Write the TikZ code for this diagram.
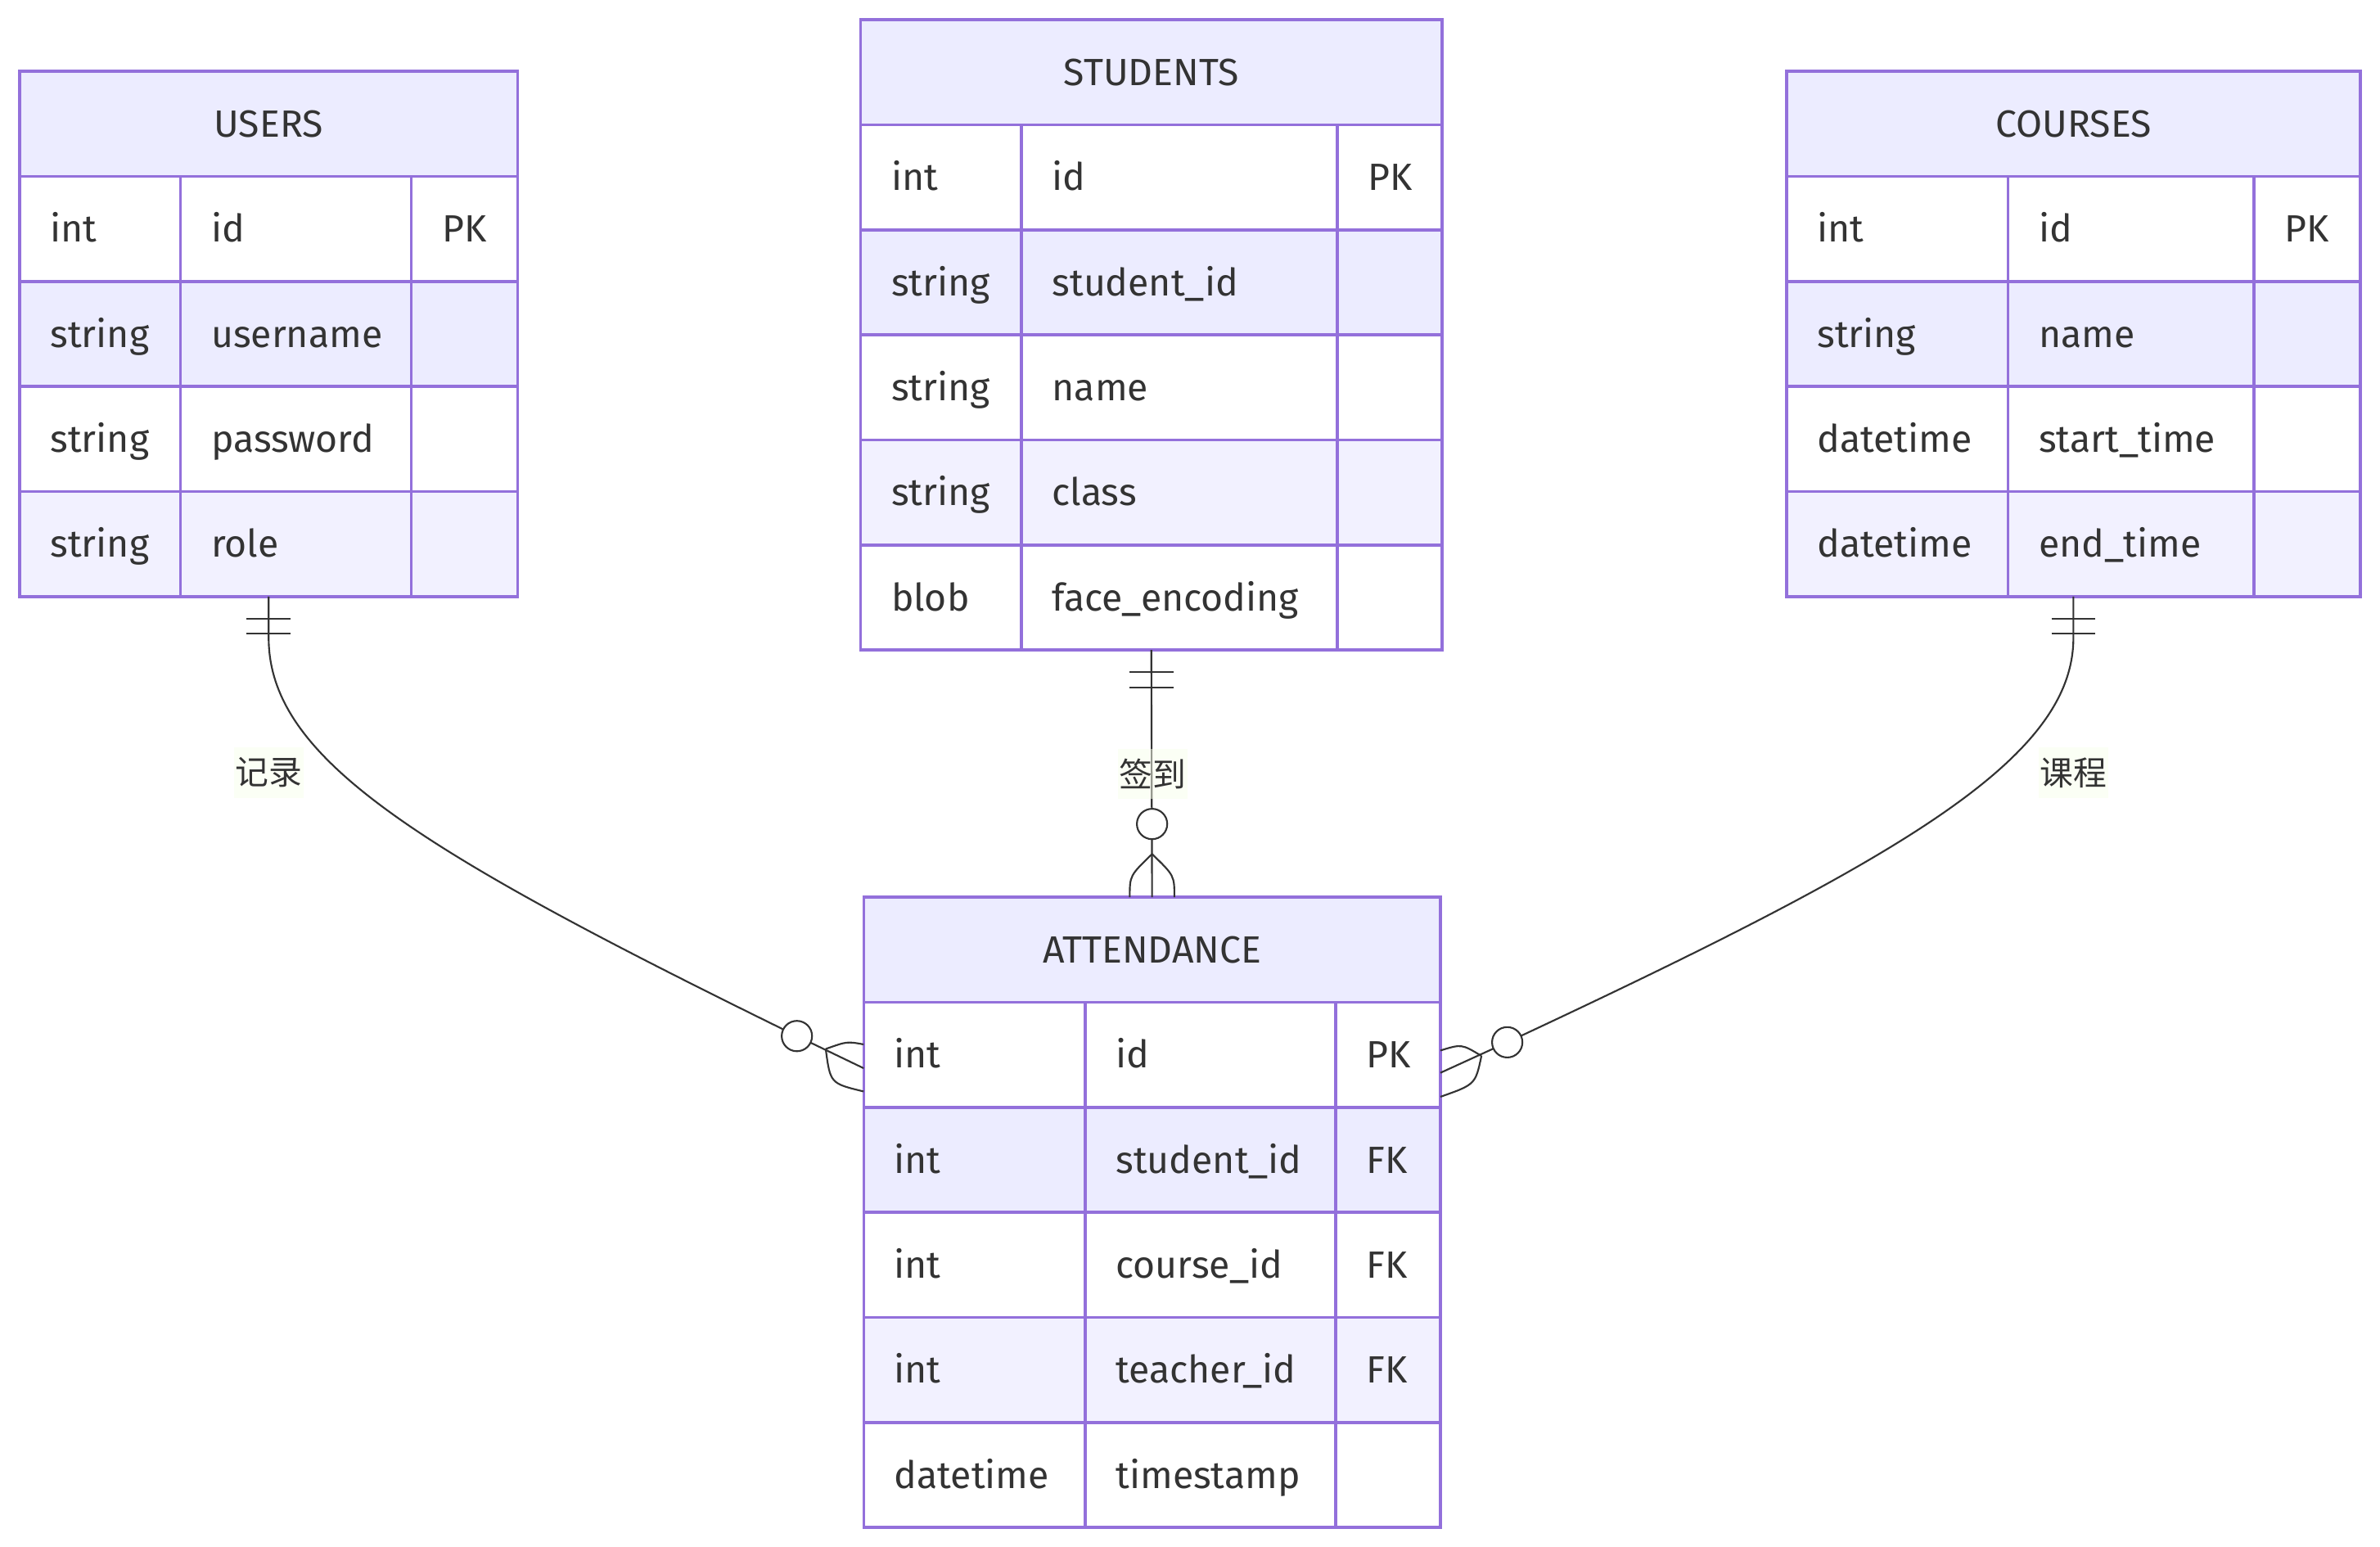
\documentclass[tikz,border=0pt]{standalone}
\usepackage{fontspec}
\setmainfont{Fira Sans}
\newfontfamily\cjkfont{Noto Sans CJK SC}
\usetikzlibrary{calc}
\definecolor{erborder}{HTML}{9370DB}
\definecolor{erhead}{HTML}{ECECFF}
\definecolor{erow1}{HTML}{FFFFFF}
\definecolor{erow2}{HTML}{ECECFF}
\definecolor{erow3}{HTML}{FFFFFF}
\definecolor{erow4}{HTML}{F2F1FF}
\definecolor{erow5}{HTML}{FFFFFF}
\definecolor{ertext}{HTML}{333333}
\definecolor{erline}{HTML}{333333}
\definecolor{lblbg}{RGB}{249,255,236}
\tikzset{
  cellbox/.style={draw=erborder, line width=1.9pt, inner sep=0pt, outer sep=0pt, anchor=north west},
  celltxt/.style={anchor=base west, inner sep=0pt, text=ertext, font=\fontsize{25}{30}\selectfont},
  headtxt/.style={anchor=base, inner sep=0pt, text=ertext, font=\fontsize{25}{30}\selectfont},
  rel/.style={draw=erline, line width=1.15pt},
  relcircle/.style={draw=erline, line width=1.15pt, fill=white},
  lbl/.style={fill=lblbg, fill opacity=0.5, text opacity=1, text=ertext, font=\cjkfont\fontsize{22}{25}\selectfont, inner sep=0pt, minimum width=46pt, minimum height=33pt}
}
% #1 id, #2 x0, #3 x1, #4 x2, #5 x3, #6 ytop, #7 title, #8 rows, #9 list
\newcommand{\ertab}[9]{%
  \node[cellbox, fill=erhead, minimum width={(#5-#2)*1pt}, minimum height=69.2pt] (#1-h) at (#2,#6) {};
  \node[headtxt] (#1-title) at ({(#2+#5)/2},{#6+43.3}) {#7};
  \foreach \tp/\nm/\ky [count=\i] in {#9}{%
    \pgfmathsetmacro\yy{#6+69.2*\i}
    \node[cellbox, fill=erow\i, minimum width={(#3-#2)*1pt}, minimum height=69.2pt] (#1-ct\i) at (#2,\yy) {};
    \node[cellbox, fill=erow\i, minimum width={(#4-#3)*1pt}, minimum height=69.2pt] (#1-cn\i) at (#3,\yy) {};
    \node[cellbox, fill=erow\i, minimum width={(#5-#4)*1pt}, minimum height=69.2pt] (#1-ck\i) at (#4,\yy) {};
    \node[celltxt] (#1-t\i) at ({#2+20},{\yy+43.3}) {\tp};
    \node[celltxt] (#1-n\i) at ({#3+20},{\yy+43.3}) {\nm};
    \node[celltxt] (#1-k\i) at ({#4+20},{\yy+43.3}) {\ky};
  }
  \node[cellbox, minimum width={(#5-#2)*1pt}, minimum height={69.2*(#8+1)*1pt}] (#1) at (#2,#6) {};
}
\newcommand{\onebars}[1]{%
  \draw[rel] ($(#1)+(-14.5,14.5)$) -- ++(29,0);
  \draw[rel] ($(#1)+(-14.5,24.5)$) -- ++(29,0);
}
\begin{document}
\begin{tikzpicture}[x=1pt, y=-1pt]
\useasboundingbox (0,0) rectangle (1568,1019);
\fill[white] (0,0) rectangle (1568,1019);

\ertab{users}{13}{119}{271}{341}{47}{USERS}{4}{int/id/PK, string/username/, string/password/, string/role/}
\ertab{students}{567}{673}{881}{950}{13}{STUDENTS}{5}{int/id/PK, string/student\_id/, string/name/, string/class/, blob/face\_encoding/}
\ertab{courses}{1177}{1323}{1485}{1555}{47}{COURSES}{4}{int/id/PK, string/name/, datetime/start\_time/, datetime/end\_time/}
\ertab{att}{569}{715}{880}{949}{591}{ATTENDANCE}{5}{int/id/PK, int/student\_id/FK, int/course\_id/FK, int/teacher\_id/FK, datetime/timestamp/}

% USERS -> ATTENDANCE
\coordinate (u1) at ($(users.south)+(0,27)$);
\coordinate (e1) at ($(att.north west)+(0,112.7)$);
\coordinate (c1) at ($(e1)+(-44,-21.2)$);
\coordinate (k1) at ($(e1)+(-25,-12.7)$);
\draw[rel] (users.south) -- (u1) .. controls +(0,80) and +(-250,-122.5) .. (c1) -- (e1);
\draw[rel] (k1) .. controls ($(e1)+(-11,-17.7)$) .. ($(e1)+(0,-15.7)$);
\draw[rel] (k1) .. controls ($(e1)+(-22,10)$) .. ($(e1)+(0,15.3)$);
\draw[relcircle] (c1) circle[radius=10pt];
\onebars{users.south}
\node[lbl] (l1) at (177,509) {记录};

% STUDENTS -> ATTENDANCE
\coordinate (k2) at ($(att.north)+(0,-28.4)$);
\coordinate (c2) at ($(att.north)+(0,-48.2)$);
\draw[rel] (students.south) -- (att.north);
\draw[rel] (k2) .. controls ($(att.north)+(-14.7,-14.2)$) .. ($(att.north)+(-14.7,0)$);
\draw[rel] (k2) .. controls ($(att.north)+(14.7,-14.2)$) .. ($(att.north)+(14.7,0)$);
\draw[relcircle] (c2) circle[radius=10pt];
\onebars{students.south}
\node[lbl] (l2) at (759.5,509.6) {签到};

% COURSES -> ATTENDANCE
\coordinate (u3) at ($(courses.south)+(0,27)$);
\coordinate (e3) at ($(att.north east)+(0,115.7)$);
\coordinate (c3) at ($(e3)+(44,-20.1)$);
\coordinate (k3) at ($(e3)+(27,-11.1)$);
\draw[rel] (courses.south) -- (u3) .. controls +(0,80) and +(260,-121.4) .. (c3) -- (e3);
\draw[rel] (k3) .. controls ($(e3)+(14,-19)$) .. ($(e3)+(0,-14.7)$);
\draw[rel] (k3) .. controls ($(e3)+(23,7.7)$) .. ($(e3)+(0,15.8)$);
\draw[relcircle] (c3) circle[radius=10pt];
\onebars{courses.south}
\node[lbl] (l3) at (1366,509) {课程};
\end{tikzpicture}
\end{document}
